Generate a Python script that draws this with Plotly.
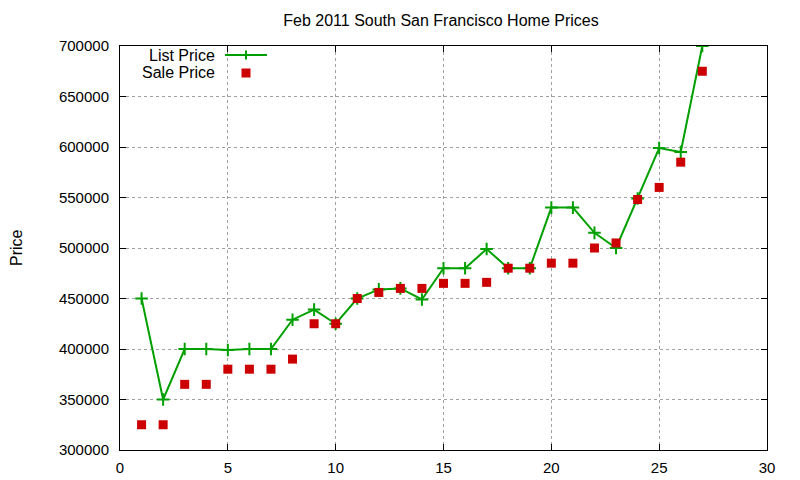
import plotly.graph_objects as go

days = list(range(1, 28))
list_price = [450000, 350000, 400000, 400000, 399000, 400000, 400000, 429000, 439000,
              425000, 450000, 459000, 460000, 449000, 480000, 480000, 499000, 480000,
              480000, 540000, 540000, 515000, 500000, 549000, 599000, 595000, 700000]
sale_price = [325000, 325000, 365000, 365000, 380000, 380000, 380000, 390000, 425000,
              425000, 450000, 456000, 460000, 460000, 465000, 465000, 466000, 480000,
              480000, 485000, 485000, 500000, 505000, 548000, 560000, 585000, 675000]
x_ticks = [0, 5, 10, 15, 20, 25, 30]
y_ticks = [300000, 350000, 400000, 450000, 500000, 550000, 600000, 650000, 700000]

GREEN = "#00a000"
RED = "#cc0000"
FONT = "Liberation Sans"

L, R, T, B = 112, 41, 38, 38
PW, PH = 800 - L - R, 480 - T - B

fig = go.Figure()
fig.add_trace(go.Scatter(
    x=days, y=list_price, mode="lines+markers", name="List Price",
    line=dict(color=GREEN, width=2),
    marker=dict(symbol="cross-thin", size=9, line=dict(color=GREEN, width=2)),
))
fig.add_trace(go.Scatter(
    x=days, y=sale_price, mode="markers", name="Sale Price",
    marker=dict(symbol="square", size=9, color=RED, line=dict(width=0)),
))

axis_common = dict(
    showline=True, linecolor="black", linewidth=1, mirror="ticks",
    ticks="inside", ticklen=6, tickcolor="black",
    showgrid=True, gridcolor="#a0a0a0", griddash="dot", gridwidth=1,
    zeroline=False, tickfont=dict(family=FONT, size=15, color="black"),
)

fig.update_layout(
    width=800, height=480,
    margin=dict(l=L, r=R, t=T, b=B),
    paper_bgcolor="white", plot_bgcolor="white",
    showlegend=False,
    title=dict(text="Feb 2011 South San Francisco Home Prices", x=433 / 800,
               xanchor="center", y=1 - 12 / 480, yanchor="middle",
               font=dict(family=FONT, size=16, color="black")),
    xaxis=dict(range=[0, 30], tickvals=x_ticks, ticklabelstandoff=4, **axis_common),
    yaxis=dict(range=[300000, 700000], tickvals=y_ticks, ticklabelstandoff=7,
               ticktext=[str(v) for v in y_ticks], **axis_common),
    font=dict(family=FONT, size=15, color="black"),
)

fig.add_annotation(text="Price", xref="paper", yref="paper", x=(8 - L) / PW, y=0.5,
                   textangle=-90, showarrow=False, xanchor="center", yanchor="middle",
                   borderpad=0, font=dict(family=FONT, size=16, color="black"))

# Gnuplot-style legend (key) at top-left inside the plot
def px(v):
    return (v - 8 - L) / PW

def py(v):
    return (480 - B + 8 - v) / PH

lx_text = px(216)
lx0 = px(225)
lx1 = px(267)
lxm = px(246)
ly1 = py(55)
ly2 = py(73)
for txt, yy in [("List Price", ly1), ("Sale Price", ly2)]:
    fig.add_annotation(text=txt, xref="paper", yref="paper", x=lx_text, y=yy,
                       xanchor="right", yanchor="middle", showarrow=False,
                       borderpad=0, valign="middle",
                       font=dict(family=FONT, size=16, color="black"))
fig.add_shape(type="line", xref="paper", yref="paper", x0=lx0, x1=lx1, y0=ly1, y1=ly1,
              line=dict(color=GREEN, width=2))
fig.add_shape(type="line", xref="paper", yref="paper", xsizemode="pixel", ysizemode="pixel",
              xanchor=lxm, yanchor=ly1, x0=0, x1=0, y0=-4.5, y1=4.5,
              line=dict(color=GREEN, width=2))
fig.add_shape(type="rect", xref="paper", yref="paper", xsizemode="pixel", ysizemode="pixel",
              xanchor=lxm, yanchor=ly2, x0=-4.5, x1=4.5, y0=-4.5, y1=4.5,
              fillcolor=RED, line=dict(width=0))

fig.write_html("out.html")
